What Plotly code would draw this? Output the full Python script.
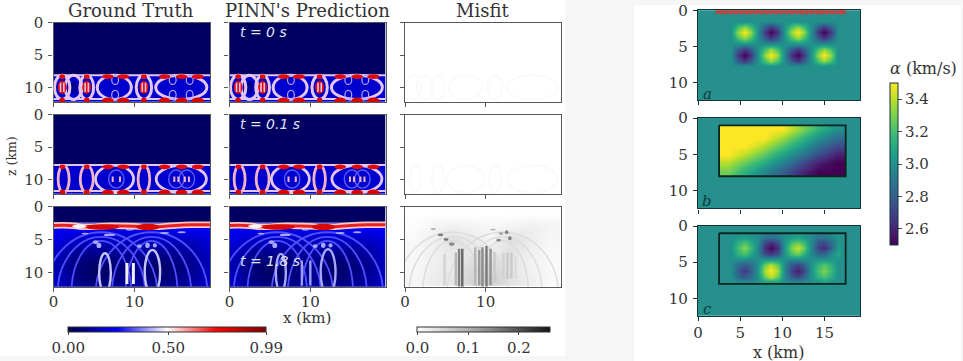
import plotly.graph_objects as go

W, H = 963, 361
SERIF = "DejaVu Serif"
INK = "#333333"

# ---------- extents (km) ----------
LEFT_X_MAX, LEFT_Z_MAX = 19.3, 12.2
RIGHT_X_MAX, RIGHT_Z_MAX = 19.2, 12.4
WAVE_VMAX = 0.99
MISFIT_VMAX = 0.262
ALPHA_MIN, ALPHA_MAX = 2.5, 3.5

# ---------- labels ----------
COLUMN_TITLES = ["Ground Truth", "PINN's Prediction", "Misfit"]
TIME_LABELS = ["t = 0 s", "t = 0.1 s", "t = 1.8 s"]
PANEL_LETTERS = ["a", "b", "c"]

# ---------- wave field: coarse background ----------
BAND_EDGES_X = [0, 19.3]
T0_EDGES_Z = [0, 8.0, 12.2]
T1_EDGES_Z = [0, 7.65, 12.2]
T0_BASE = [[0.03], [0.18]]
T1_BASE = [[0.03], [0.18]]
T18_TOP_EDGES_Z = [0, 2.5]
T18_TOP = [[0.03]]
T18_GRID_X = [0.5, 2.9, 5.3, 7.7, 10.1, 12.5, 14.9, 17.3, 19.3]
T18_GRID_Z = [3.4, 5.2, 7, 8.8, 10.6, 12.0]
T18_GRID = [
    [0.23, 0.23, 0.23, 0.22, 0.22, 0.23, 0.23, 0.23, 0.23],
    [0.20, 0.16, 0.15, 0.16, 0.15, 0.16, 0.15, 0.16, 0.20],
    [0.16, 0.09, 0.09, 0.09, 0.11, 0.09, 0.09, 0.12, 0.17],
    [0.14, 0.06, 0.04, 0.06, 0.09, 0.04, 0.06, 0.10, 0.16],
    [0.15, 0.07, 0.03, 0.06, 0.10, 0.04, 0.07, 0.11, 0.16],
    [0.17, 0.10, 0.07, 0.10, 0.12, 0.08, 0.10, 0.13, 0.18],
]

# ---------- wave field: ring fronts, as centre x, centre z, half width, half height (km) ----------
T0_RING_X = [2.47, 1.07, 4.1, 7.5, 11.15, 15.76]
T0_RING_Z = [9.95] * 6
T0_RING_RX = [1.05, 0.95, 0.85, 2.1, 0.95, 3.15]
T0_RING_RZ = [1.85] * 6
T0_CORE_X = [1.07, 4.1, 11.15]
T0_CORE_RX = [0.55, 0.55, 0.55]
T0_CORE_RZ = [1.0, 1.0, 1.0]
T0_STRIPE_X = [0.87, 1.27, 3.9, 4.3, 10.95, 11.35]
T0_STRIPE_Z0 = [9.25] * 6
T0_STRIPE_Z1 = [10.65] * 6
T0_BLOB_X = [1.07, 4.1, 6.7, 8.6, 11.15, 13.7, 15.8, 17.8]
T0_BLOB_RX = [0.35, 0.35, 0.72, 0.76, 0.35, 0.72, 0.72, 0.76]
T0_BLOB_Z_TOP = 8.3
T0_BLOB_Z_BOTTOM = 12.0
T0_FRONT_Z = [8.1, 11.75]
T0_WING_X = [7.6, 14.7, 16.8, 7.6, 14.7, 16.8]
T0_WING_Z = [8.8, 8.8, 8.8, 11.1, 11.1, 11.1]
T0_WING_RX = [0.42] * 6
T0_WING_RZ = [0.7] * 6
T0_DARK_X = [2.47]
T0_DARK_RX = [0.5]
T0_DARK_RZ = [1.0]

T1_RING_X = [1.25, 4.1, 7.53, 11.15, 15.76]
T1_RING_Z = [9.9] * 5
T1_RING_RX = [0.68, 0.8, 2.35, 0.72, 3.1]
T1_RING_RZ = [2.1] * 5
T1_STRIPE_X = [7.3, 8.2, 14.9, 15.4, 16.2, 16.7]
T1_STRIPE_Z0 = [9.5] * 6
T1_STRIPE_Z1 = [10.35] * 6
T1_BLOB_X = [1.1, 4.1, 6.7, 8.6, 11.15, 13.7, 15.8, 17.8]
T1_BLOB_RX = [0.35, 0.35, 0.72, 0.76, 0.35, 0.72, 0.72, 0.76]
T1_BLOB_Z_TOP = 8.02
T1_BLOB_Z_BOTTOM = 12.0
T1_FRONT_Z = [7.75, 11.75]
T1_WING_X = [7.75, 15.15, 16.45]
T1_WING_Z = [9.9, 9.9, 9.9]
T1_WING_RX = [0.95, 0.95, 0.95]
T1_WING_RZ = [1.4, 1.4, 1.4]

T18_ARC_X = [5.9, 5.9, 5.9, 12.1, 12.1, 12.1]
T18_ARC_Z = [13.2] * 6
T18_ARC_RX = [5.4, 3.7, 6.9, 4.9, 3.2, 6.9]
T18_ARC_RZ = [8.6, 8.0, 9.3, 8.6, 8.0, 9.3]
T18_CORE_X = [6.35, 12.2]
T18_CORE_Z = [10.1, 10.0]
T18_CORE_RX = [0.72, 0.95]
T18_CORE_RZ = [3.0, 3.4]
T18_STRIP_X = [9.05, 9.85]
T18_STRIP_Z0 = [8.6, 8.6]
T18_STRIP_Z1 = [11.8, 11.8]
PRED_CORE_RX = [0.62, 0.92]
PRED_CORE_RZ = [2.9, 3.5]
PRED_STRIP_X = [8.95, 10.0]
PRED_STRIP_Z0 = [8.2, 8.2]
PRED_STRIP_Z1 = [12.0, 12.0]
T18_SPOT_X = [5.2, 5.6, 10.6, 11.6, 12.5, 3.9, 6.9, 9.4, 13.7, 15.8]
T18_SPOT_Z = [5.4, 5.9, 6.0, 5.9, 5.9, 4.1, 4.3, 3.5, 4.0, 3.9]
T18_SPOT_RX = [0.35, 0.3, 0.3, 0.28, 0.25, 0.42, 0.7, 0.5, 0.55, 0.5]
T18_SPOT_RZ = [0.3, 0.4, 0.28, 0.4, 0.32, 0.14, 0.18, 0.12, 0.16, 0.14]
T18_FRONT_X = [0, 2, 3.5, 5, 7, 9, 11, 13, 15, 17, 19.3]
T18_FRONT_Z = [2.85, 2.85, 3.05, 3.05, 2.9, 2.95, 3.05, 3.05, 2.85, 2.75, 2.75]
T18_HOT_X = [6.0, 11.65]
T18_HOT_RX = [2.1, 1.45]
T18_HOT_RZ = [0.42, 0.5]
T18_HOT_Z = [3.1, 3.1]
T18_GLOW_X = [3.2]
T18_GLOW_Z = [3.0]
T18_GLOW_RX = [0.9]
T18_GLOW_RZ = [0.32]

# ---------- misfit ----------
MF_GRID_X = [1.2, 3.6, 6.0, 8.4, 10.8, 13.2, 15.6, 18.0]
MF_GRID_Z = [1, 3, 5, 7, 9, 11]
MF_GRID = [
    [0.000, 0.000, 0.000, 0.000, 0.000, 0.000, 0.000, 0.000],
    [0.004, 0.014, 0.018, 0.014, 0.010, 0.014, 0.020, 0.014],
    [0.008, 0.020, 0.040, 0.026, 0.014, 0.040, 0.024, 0.010],
    [0.010, 0.018, 0.030, 0.030, 0.026, 0.036, 0.018, 0.008],
    [0.010, 0.020, 0.026, 0.045, 0.050, 0.032, 0.016, 0.008],
    [0.012, 0.024, 0.032, 0.055, 0.060, 0.035, 0.020, 0.008],
]
MF_STRIP_X = [4.9, 6.3, 6.7, 7.1, 8.7, 9.2, 9.6, 10.1, 10.6, 11.1, 12.2, 12.7, 13.2, 13.7]
MF_STRIP_Z0 = [7.2, 7.0, 6.4, 6.4, 6.2, 6.6, 6.2, 6.0, 6.4, 7.0, 7.0, 7.0, 7.0, 7.5]
MF_STRIP_Z1 = [12.0, 12.0, 12.2, 12.2, 12.0, 12.0, 12.2, 12.2, 12.0, 11.6, 11.0, 11.0, 11.0, 11.0]
MF_STRIP_V = [0.05, 0.08, 0.14, 0.17, 0.08, 0.11, 0.13, 0.15, 0.12, 0.06, 0.05, 0.06, 0.06, 0.04]
MF_SPOT_X = [3.5, 4.4, 5.1, 5.8, 10.9, 11.9, 12.6, 13.0, 11.6]
MF_SPOT_Z = [3.4, 4.3, 5.0, 5.7, 3.5, 4.1, 3.9, 4.8, 5.1]
MF_SPOT_RX = [0.35, 0.35, 0.3, 0.35, 0.35, 0.3, 0.22, 0.22, 0.3]
MF_SPOT_RZ = [0.12, 0.2, 0.2, 0.28, 0.14, 0.2, 0.3, 0.3, 0.22]
MF_SPOT_V = [0.11, 0.14, 0.16, 0.13, 0.08, 0.10, 0.14, 0.14, 0.13]

# ---------- velocity panels ----------
SOURCE_X = [2.4, 3.0, 3.6, 4.2, 4.8, 5.4, 6.0, 6.6, 7.2, 7.8, 8.4, 9.0, 9.6, 10.2, 10.8,
            11.4, 12.0, 12.6, 13.2, 13.8, 14.4, 15.0, 15.6, 16.2, 16.8, 17.2]
SOURCE_Z = [0.05] * 26
VEL_X = [3.925, 4.71, 5.5, 6.29, 7.075, 7.86, 8.65, 9.44, 10.225,
         11.01, 11.8, 12.59, 13.375, 14.16, 14.95, 15.74, 16.525]
VEL_Z = [1.475, 2.26, 3.05, 3.84, 4.625, 5.41, 6.2, 6.99, 7.775]
FLAT = [3.0] * 17
A_UP_EDGE = [3.0, 3.2, 3.34, 3.2, 3.0, 2.8, 2.66, 2.8, 3.0, 3.2, 3.34, 3.2, 3.0, 2.8, 2.66, 2.8, 3.0]
A_UP_MID = [3.0, 3.34, 3.5, 3.34, 3.0, 2.66, 2.5, 2.66, 3.0, 3.34, 3.5, 3.34, 3.0, 2.66, 2.5, 2.66, 3.0]
A_DN_EDGE = [3.0, 2.8, 2.66, 2.8, 3.0, 3.2, 3.34, 3.2, 3.0, 2.8, 2.66, 2.8, 3.0, 3.2, 3.34, 3.2, 3.0]
A_DN_MID = [3.0, 2.66, 2.5, 2.66, 3.0, 3.34, 3.5, 3.34, 3.0, 2.66, 2.5, 2.66, 3.0, 3.34, 3.5, 3.34, 3.0]
VEL_A = [FLAT, A_UP_EDGE, A_UP_MID, A_UP_EDGE, FLAT, A_DN_EDGE, A_DN_MID, A_DN_EDGE, FLAT]

VEL_B_X = [3.57, 5.71, 7.86, 10.0, 12.14, 14.29, 16.43]
VEL_B_Z = [1.58, 2.75, 3.92, 5.08, 6.25, 7.42]
VEL_B = [
    [3.50, 3.50, 3.50, 3.50, 3.33, 3.15, 3.00],
    [3.50, 3.50, 3.50, 3.35, 3.18, 3.00, 2.85],
    [3.50, 3.50, 3.38, 3.22, 3.05, 2.87, 2.72],
    [3.50, 3.38, 3.24, 3.07, 2.90, 2.73, 2.58],
    [3.38, 3.24, 3.10, 2.93, 2.75, 2.58, 2.50],
    [3.28, 3.12, 2.96, 2.80, 2.62, 2.50, 2.50],
]

VEL_C = [
    [3.00, 3.02, 3.04, 3.00, 2.99, 2.90, 2.88, 2.92, 3.00, 3.03, 3.06, 3.03, 2.98, 2.90, 2.90, 2.96, 3.02],
    [3.00, 3.14, 3.22, 3.12, 2.98, 2.72, 2.62, 2.72, 3.00, 3.20, 3.28, 3.18, 2.98, 2.76, 2.72, 2.84, 3.02],
    [3.00, 3.20, 3.32, 3.18, 2.96, 2.64, 2.52, 2.64, 3.00, 3.28, 3.42, 3.28, 2.97, 2.72, 2.62, 2.80, 3.05],
    [3.00, 3.14, 3.22, 3.10, 2.96, 2.74, 2.66, 2.76, 3.00, 3.20, 3.28, 3.14, 2.97, 2.84, 2.84, 2.98, 3.08],
    [3.00, 2.99, 2.96, 2.96, 3.00, 3.06, 3.08, 3.06, 3.00, 2.96, 2.95, 2.98, 3.00, 3.03, 3.05, 3.04, 3.02],
    [3.00, 2.85, 2.78, 2.85, 3.00, 3.28, 3.40, 3.26, 3.00, 2.78, 2.70, 2.80, 3.00, 3.16, 3.24, 3.14, 3.00],
    [3.00, 2.80, 2.66, 2.80, 3.02, 3.38, 3.50, 3.36, 3.00, 2.72, 2.58, 2.72, 3.00, 3.20, 3.30, 3.18, 3.00],
    [3.00, 2.85, 2.78, 2.85, 3.00, 3.28, 3.40, 3.26, 3.00, 2.80, 2.72, 2.82, 3.00, 3.14, 3.22, 3.12, 3.00],
    [3.00, 2.99, 2.97, 2.99, 3.00, 3.05, 3.07, 3.05, 3.00, 2.98, 2.96, 2.98, 3.00, 3.02, 3.04, 3.02, 3.00],
]
BOX_X = [2.5, 17.5, 17.5, 2.5, 2.5]
BOX_Z = [1, 1, 8, 8, 1]

ALPHA_TICKS = [2.6, 2.8, 3.0, 3.2, 3.4]
WAVE_TICKS = [0, 0.5, 0.99]
WAVE_TICKTEXT = ["0.00", "0.50", "0.99"]
MISFIT_TICKS = [0, 0.1, 0.2]

SEISMIC = [[0, "rgb(0,0,76)"], [0.25, "rgb(0,0,255)"], [0.5, "rgb(255,255,255)"],
           [0.75, "rgb(255,0,0)"], [1, "rgb(127,0,0)"]]
GREYS = [[0, "rgb(255,255,255)"], [0.5, "rgb(150,150,150)"], [1, "rgb(20,20,20)"]]
TEAL = "#25908c"
LAV = "#e2c6f0"
PINK = "#f2b4c4"
RED = "#e00808"
ARC = "#4f4fff"
CORE = "#c4c4ff"


def grey_colour(v):
    g = 255 - 235 * min(v / MISFIT_VMAX, 1)
    return "rgb(%d,%d,%d)" % (g, g, g)


def dom_x(a, b):
    return [a / W, b / W]


def dom_y(top, bottom):
    return [1 - bottom / H, 1 - top / H]


fig = go.Figure()
layout = {}
shapes = []
COL_PX = [(53.5, 210), (229.5, 385.5), (405, 560.7)]
ROW_PX = [(22.7, 102), (114.7, 194), (206.7, 286.7)]
R_COL_PX = (698, 860)
R_ROW_PX = [(10.3, 100), (118, 208.3), (226, 315.7)]


def add_axes(n, xdom, ydom, xmax, zmax, xticks, zticks, show_x, show_z, color, size, x_standoff, z_standoff):
    suffix = "" if n == 1 else str(n)
    common = dict(showgrid=False, zeroline=False, showline=True, mirror=True, linecolor=color,
                  linewidth=1.4, ticks="outside", ticklen=4, tickwidth=1.2, tickcolor=color,
                  tickfont=dict(family=SERIF, size=size, color=INK))
    layout["xaxis" + suffix] = dict(common, domain=xdom, range=[0, xmax], tickvals=xticks,
                                    showticklabels=show_x, anchor="y" + suffix, ticklabelstandoff=x_standoff)
    layout["yaxis" + suffix] = dict(common, domain=ydom, range=[zmax, 0], tickvals=zticks,
                                    showticklabels=show_z, anchor="x" + suffix, ticklabelstandoff=z_standoff)
    return "x" + suffix, "y" + suffix


def ellipse(xr, yr, cx, cz, rx, rz, line=None, fill=None, width=1.5):
    shapes.append(dict(type="circle", xref=xr, yref=yr, x0=cx - rx, x1=cx + rx, y0=cz - rz, y1=cz + rz,
                       line=dict(color=line or "rgba(0,0,0,0)", width=width if line else 0),
                       fillcolor=fill or "rgba(0,0,0,0)"))


def segment(xr, yr, x0, x1, z0, z1, color, width):
    shapes.append(dict(type="line", xref=xr, yref=yr, x0=x0, x1=x1, y0=z0, y1=z1,
                       line=dict(color=color, width=width)))


def wave_heatmap(xr, yr, edges, base, show_scale):
    cb = dict(orientation="h", lenmode="pixels", len=198.4, thicknessmode="pixels", thickness=5,
              x=68.3 / W, xanchor="left", y=1 - 326.7 / H, yanchor="top", xpad=0, ypad=0,
              ticks="outside", ticklen=3, tickvals=WAVE_TICKS, ticktext=WAVE_TICKTEXT, outlinewidth=1,
              outlinecolor=INK, tickfont=dict(family=SERIF, size=15, color=INK))
    fig.add_trace(go.Heatmap(x=BAND_EDGES_X, y=edges, z=base, xaxis=xr, yaxis=yr, colorscale=SEISMIC,
                             zmin=0, zmax=WAVE_VMAX, showscale=show_scale, colorbar=cb, hoverinfo="skip"))


def blobs(xr, yr, xs, rxs, z_top, z_bottom):
    for x, rx in zip(xs, rxs):
        ellipse(xr, yr, x, z_top, rx, 0.36, fill=RED)
        ellipse(xr, yr, x, z_bottom, rx, 0.48, fill="#d40606")


def t0_panel(xr, yr, show_scale):
    wave_heatmap(xr, yr, T0_EDGES_Z, T0_BASE, show_scale)
    for x, rx, rz in zip(T0_DARK_X, T0_DARK_RX, T0_DARK_RZ):
        ellipse(xr, yr, x, 9.95, rx, rz, fill="#000090")
    for z in T0_FRONT_Z:
        segment(xr, yr, 0, LEFT_X_MAX, z, z, LAV, 2)
    for cx, cz, rx, rz in zip(T0_RING_X, T0_RING_Z, T0_RING_RX, T0_RING_RZ):
        ellipse(xr, yr, cx, cz, rx, rz, line=LAV, width=3)
    for cx, cz, rx, rz in zip(T0_WING_X, T0_WING_Z, T0_WING_RX, T0_WING_RZ):
        ellipse(xr, yr, cx, cz, rx, rz, line="#b8a4f4", width=1.2)
    for x, rx, rz in zip(T0_CORE_X, T0_CORE_RX, T0_CORE_RZ):
        ellipse(xr, yr, x, 9.95, rx, rz, fill=RED)
    for x, z0, z1 in zip(T0_STRIPE_X, T0_STRIPE_Z0, T0_STRIPE_Z1):
        segment(xr, yr, x, x, z0, z1, LAV, 1.6)
    blobs(xr, yr, T0_BLOB_X, T0_BLOB_RX, T0_BLOB_Z_TOP, T0_BLOB_Z_BOTTOM)


def t1_panel(xr, yr):
    wave_heatmap(xr, yr, T1_EDGES_Z, T1_BASE, False)
    for cx, cz, rx, rz in zip(T1_WING_X, T1_WING_Z, T1_WING_RX, T1_WING_RZ):
        ellipse(xr, yr, cx, cz, rx, rz, line="#5c5cff", width=1.4)
    for z in T1_FRONT_Z:
        segment(xr, yr, 0, LEFT_X_MAX, z, z, LAV, 2)
    for cx, cz, rx, rz in zip(T1_RING_X, T1_RING_Z, T1_RING_RX, T1_RING_RZ):
        ellipse(xr, yr, cx, cz, rx, rz, line=LAV if rx > 1 else PINK, width=2.8)
    for x, z0, z1 in zip(T1_STRIPE_X, T1_STRIPE_Z0, T1_STRIPE_Z1):
        segment(xr, yr, x, x, z0, z1, PINK, 2)
    blobs(xr, yr, T1_BLOB_X, T1_BLOB_RX, T1_BLOB_Z_TOP, T1_BLOB_Z_BOTTOM)


def t18_panel(xr, yr, core_rx, core_rz, core_color, strip_x, strip_z0, strip_z1, strip_color, strip_width):
    fig.add_trace(go.Heatmap(x=T18_GRID_X, y=T18_GRID_Z, z=T18_GRID, xaxis=xr, yaxis=yr, zsmooth="best",
                             colorscale=SEISMIC, zmin=0, zmax=WAVE_VMAX, showscale=False, hoverinfo="skip"))
    fig.add_trace(go.Heatmap(x=BAND_EDGES_X, y=T18_TOP_EDGES_Z, z=T18_TOP, xaxis=xr, yaxis=yr,
                             colorscale=SEISMIC, zmin=0, zmax=WAVE_VMAX, showscale=False, hoverinfo="skip"))
    for cx, cz, rx, rz in zip(T18_ARC_X, T18_ARC_Z, T18_ARC_RX, T18_ARC_RZ):
        ellipse(xr, yr, cx, cz, rx, rz, line=ARC, width=1.8)
    for cx, cz, rx, rz in zip(T18_CORE_X, T18_CORE_Z, core_rx, core_rz):
        ellipse(xr, yr, cx, cz, rx, rz, line=core_color, width=2.4)
    for x, z0, z1 in zip(strip_x, strip_z0, strip_z1):
        segment(xr, yr, x, x, z0, z1, strip_color, strip_width)
    for cx, cz, rx, rz in zip(T18_SPOT_X, T18_SPOT_Z, T18_SPOT_RX, T18_SPOT_RZ):
        ellipse(xr, yr, cx, cz, rx, rz, fill="#a8a8ff")
    fig.add_trace(go.Scatter(x=T18_FRONT_X, y=T18_FRONT_Z, xaxis=xr, yaxis=yr, mode="lines",
                             line=dict(color="#f8c8c8", width=6.5, shape="spline"), hoverinfo="skip",
                             showlegend=False))
    fig.add_trace(go.Scatter(x=T18_FRONT_X, y=T18_FRONT_Z, xaxis=xr, yaxis=yr, mode="lines",
                             line=dict(color="#e82020", width=3, shape="spline"), hoverinfo="skip",
                             showlegend=False))
    for cx, cz, rx, rz in zip(T18_HOT_X, T18_HOT_Z, T18_HOT_RX, T18_HOT_RZ):
        ellipse(xr, yr, cx, cz, rx, rz, fill="#d80808")
    for cx, cz, rx, rz in zip(T18_GLOW_X, T18_GLOW_Z, T18_GLOW_RX, T18_GLOW_RZ):
        ellipse(xr, yr, cx, cz, rx, rz, fill="#fff4f4")


def misfit_panel(xr, yr, r):
    if r == 2:
        cb = dict(orientation="h", lenmode="pixels", len=132.7, thicknessmode="pixels", thickness=5,
                  x=417.3 / W, xanchor="left", y=1 - 326.7 / H, yanchor="top", xpad=0, ypad=0,
                  ticks="outside", ticklen=3, tickvals=MISFIT_TICKS, ticktext=["0.0", "0.1", "0.2"],
                  outlinewidth=1, outlinecolor=INK, tickfont=dict(family=SERIF, size=15, color=INK))
        fig.add_trace(go.Heatmap(x=MF_GRID_X, y=MF_GRID_Z, z=MF_GRID, xaxis=xr, yaxis=yr, zsmooth="best",
                                 colorscale=GREYS, zmin=0, zmax=MISFIT_VMAX, showscale=True, colorbar=cb,
                                 hoverinfo="skip"))
        for cx, cz, rx, rz in zip(T18_ARC_X, T18_ARC_Z, T18_ARC_RX, T18_ARC_RZ):
            ellipse(xr, yr, cx, cz, rx, rz, line="#dcdcdc", width=1.4)
        for x, z0, z1, v in zip(MF_STRIP_X, MF_STRIP_Z0, MF_STRIP_Z1, MF_STRIP_V):
            segment(xr, yr, x, x, z0, z1, grey_colour(v), 2.4)
        for cx, cz, rx, rz, v in zip(MF_SPOT_X, MF_SPOT_Z, MF_SPOT_RX, MF_SPOT_RZ, MF_SPOT_V):
            ellipse(xr, yr, cx, cz, rx, rz, fill=grey_colour(v))
    else:
        xs, zs, rxs, rzs = ((T0_RING_X, T0_RING_Z, T0_RING_RX, T0_RING_RZ) if r == 0
                            else (T1_RING_X, T1_RING_Z, T1_RING_RX, T1_RING_RZ))
        fig.add_trace(go.Scatter(x=xs, y=zs, xaxis=xr, yaxis=yr, mode="markers", marker=dict(opacity=0),
                                 showlegend=False, hoverinfo="skip"))
        for cx, cz, rx, rz in zip(xs, zs, rxs, rzs):
            ellipse(xr, yr, cx, cz, rx, rz, line="#f9f9f9", width=1.6)


# ---------- left block ----------
n = 0
for r in range(3):
    for c in range(3):
        n += 1
        xr, yr = add_axes(n, dom_x(*COL_PX[c]), dom_y(*ROW_PX[r]), LEFT_X_MAX, LEFT_Z_MAX,
                          [0, 10], [0, 5, 10], r == 2, c == 0, "#55585c", 15, -3, 2)
        if c == 2:
            misfit_panel(xr, yr, r)
        elif r == 0:
            t0_panel(xr, yr, c == 0)
        elif r == 1:
            t1_panel(xr, yr)
        elif c == 0:
            t18_panel(xr, yr, T18_CORE_RX, T18_CORE_RZ, CORE, T18_STRIP_X, T18_STRIP_Z0, T18_STRIP_Z1, "#f0f0ff", 3)
        else:
            t18_panel(xr, yr, PRED_CORE_RX, PRED_CORE_RZ, "#a8a8ff", PRED_STRIP_X, PRED_STRIP_Z0, PRED_STRIP_Z1,
                      "#9c9cff", 2.4)

# ---------- right block ----------
for r in range(3):
    n += 1
    xr, yr = add_axes(n, dom_x(*R_COL_PX), dom_y(*R_ROW_PX[r]), RIGHT_X_MAX, RIGHT_Z_MAX,
                      [0, 5, 10, 15], [0, 5, 10], r == 2, True, "#14343a", 15, -1, 2)
    shapes.append(dict(type="rect", xref=xr + " domain", yref=yr + " domain", x0=0, x1=1, y0=0, y1=1,
                       fillcolor=TEAL, line=dict(width=0), layer="below"))
    cb = dict(lenmode="pixels", len=161.7, thicknessmode="pixels", thickness=7.7, x=890 / W, xanchor="left",
              y=1 - 245 / H, yanchor="bottom", xpad=0, ypad=0, ticks="outside", ticklen=4, tickvals=ALPHA_TICKS,
              ticktext=["2.6", "2.8", "3.0", "3.2", "3.4"], outlinewidth=1, outlinecolor="#14343a",
              tickfont=dict(family=SERIF, size=15, color=INK))
    kw = dict(xaxis=xr, yaxis=yr, colorscale="Viridis", zmin=ALPHA_MIN, zmax=ALPHA_MAX, zsmooth="best",
              hoverinfo="skip")
    if r == 0:
        fig.add_trace(go.Heatmap(x=VEL_X, y=VEL_Z, z=VEL_A, showscale=True, colorbar=cb, **kw))
        fig.add_trace(go.Scatter(x=SOURCE_X, y=SOURCE_Z, xaxis=xr, yaxis=yr, mode="markers", showlegend=False,
                                 marker=dict(symbol="star", size=8, color="#c8403c"), hoverinfo="skip"))
    elif r == 1:
        fig.add_trace(go.Heatmap(x=VEL_B_X, y=VEL_B_Z, z=VEL_B, showscale=False, **kw))
    else:
        fig.add_trace(go.Heatmap(x=VEL_X, y=VEL_Z, z=VEL_C, showscale=False, **kw))
    if r > 0:
        fig.add_trace(go.Scatter(x=BOX_X, y=BOX_Z, xaxis=xr, yaxis=yr, mode="lines", showlegend=False,
                                 line=dict(color="#0c2420", width=1.8), hoverinfo="skip"))


# ---------- text ----------
def label(x, y, text, size, color=INK, family=SERIF, angle=0, xanchor="center"):
    return dict(x=x / W, y=1 - y / H, xref="paper", yref="paper", text=text, showarrow=False, textangle=angle,
                xanchor=xanchor, yanchor="middle", font=dict(family=family, size=size, color=color))


annots = []
for (a, b), t in zip(COL_PX, COLUMN_TITLES):
    annots.append(label((a + b) / 2 - 0.5, 10.5, t, 18))
annots.append(label(11, 156, "z (km)", 12.5, angle=-90))
annots.append(label(307, 318, "x (km)", 15))
annots.append(label(778, 352, "x (km)", 16))
annots.append(label(923, 69, "<i>α</i> (km/s)", 16))
for (tx, ty), t in zip([(238, 32), (238, 124), (238, 261)], TIME_LABELS):
    annots.append(label(tx, ty, "<i>" + t + "</i>", 14, color="#dfe4fa", family="DejaVu Sans", xanchor="left"))
for (tx, ty), t in zip([(707, 94), (707, 201), (707, 309)], PANEL_LETTERS):
    annots.append(label(tx, ty, "<i>" + t + "</i>", 15, color="#123c40"))

# page: pale surround with two white cards
backdrop = [
    dict(type="rect", xref="paper", yref="paper", x0=0, x1=565 / W, y0=1 - 356 / H, y1=1,
         fillcolor="white", line=dict(width=0), layer="below"),
    dict(type="rect", xref="paper", yref="paper", x0=634 / W, x1=961 / W, y0=0, y1=1 - 5 / H,
         fillcolor="white", line=dict(width=0), layer="below"),
]

fig.update_layout(width=W, height=H, margin=dict(l=0, r=0, t=0, b=0, autoexpand=False), autosize=False,
                  paper_bgcolor="#f6f6f6", plot_bgcolor="white", showlegend=False,
                  shapes=backdrop + shapes, annotations=annots, **layout)
fig.write_html("out.html", config={"displayModeBar": False},
               post_script="document.body.style.margin='0';document.body.style.overflow='hidden';")
